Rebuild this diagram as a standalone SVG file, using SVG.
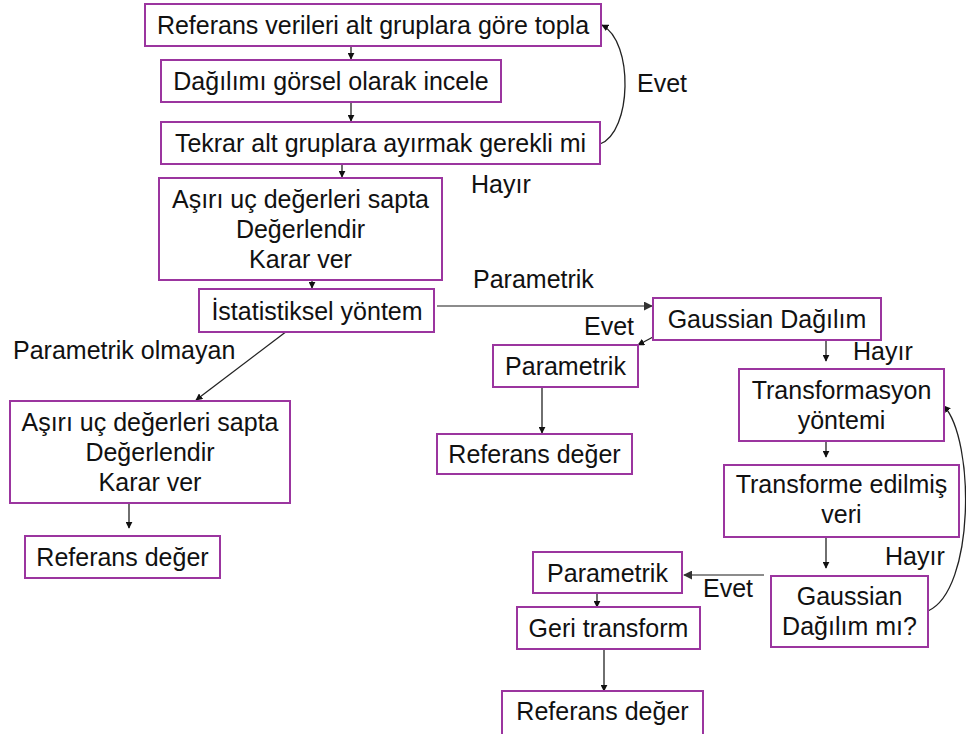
<svg xmlns="http://www.w3.org/2000/svg" width="966" height="734" viewBox="0 0 966 734">
<style>
.b{fill:#fff;stroke:#9b359f;stroke-width:2}
text{font-family:"Liberation Sans",Arial,sans-serif;font-size:25px;fill:#111}
.c{text-anchor:middle}
.l{fill:none;stroke:#222;stroke-width:1.3}
.g{fill:none;stroke:#8c8c8c;stroke-width:2.2}
</style>
<defs>
<marker id="a" viewBox="0 0 10 10" refX="9" refY="5" markerWidth="7" markerHeight="7" markerUnits="userSpaceOnUse" orient="auto"><path d="M0,0 L10,5 L0,10 z" fill="#111"/></marker>
<marker id="ag" viewBox="0 0 10 10" refX="9" refY="5" markerWidth="9" markerHeight="9" markerUnits="userSpaceOnUse" orient="auto"><path d="M0,0 L10,5 L0,10 z" fill="#333"/></marker>
</defs>
<rect width="966" height="734" fill="#fff"/>
<g id="connectors">
<line class="l" x1="351" y1="46" x2="351" y2="59" marker-end="url(#a)"/>
<line class="l" x1="351" y1="102" x2="351" y2="121" marker-end="url(#a)"/>
<line class="l" x1="342" y1="164" x2="342" y2="177" marker-end="url(#a)"/>
<line class="l" x1="312" y1="280" x2="312" y2="288" marker-end="url(#a)"/>
<path class="l" d="M600,144 C632,132 634,42 602,25" marker-end="url(#a)"/>
<line class="l" x1="287" y1="331" x2="196" y2="400" marker-end="url(#a)"/>
<line class="l" x1="129" y1="504" x2="129" y2="528" marker-end="url(#a)"/>
<line class="g" x1="437" y1="306" x2="652" y2="306" marker-end="url(#ag)"/>
<line class="l" x1="653" y1="337" x2="638" y2="345" marker-end="url(#a)"/>
<line class="l" x1="542" y1="387" x2="542" y2="433" marker-end="url(#a)"/>
<line class="l" x1="826" y1="341" x2="826" y2="361" marker-end="url(#a)"/>
<line class="l" x1="826" y1="441" x2="826" y2="457" marker-end="url(#a)"/>
<line class="l" x1="826" y1="537" x2="826" y2="568" marker-end="url(#a)"/>
<path class="l" d="M928,611 C975,590 975,440 944,406" marker-end="url(#a)"/>
<line class="g" x1="764" y1="575" x2="684" y2="575" stroke="#555" marker-end="url(#ag)"/>
<line class="l" x1="597" y1="593" x2="597" y2="607" marker-end="url(#a)"/>
<line class="l" x1="604" y1="650" x2="604" y2="691" marker-end="url(#a)"/>
</g>
<g id="labels">
<text x="637" y="92">Evet</text>
<text x="471" y="193">Hayır</text>
<text x="473" y="288">Parametrik</text>
<text x="13" y="359">Parametrik olmayan</text>
<text x="584" y="335">Evet</text>
<text x="853" y="360">Hayır</text>
<text x="885" y="565">Hayır</text>
<text x="703" y="597">Evet</text>
</g>
<g id="n1"><rect class="b" x="145" y="4" width="456" height="42"/><text class="c" x="373" y="34">Referans verileri alt gruplara göre topla</text></g>
<g id="n2"><rect class="b" x="161" y="60" width="340" height="42"/><text class="c" x="331" y="90">Dağılımı görsel olarak incele</text></g>
<g id="n3"><rect class="b" x="161" y="122" width="439" height="42"/><text class="c" x="380.5" y="152">Tekrar alt gruplara ayırmak gerekli mi</text></g>
<g id="n4"><rect class="b" x="159" y="178" width="283" height="102"/><text class="c" x="300.5" y="208">Aşırı uç değerleri sapta</text><text class="c" x="300.5" y="238">Değerlendir</text><text class="c" x="300.5" y="268">Karar ver</text></g>
<g id="n5"><rect class="b" x="199" y="289" width="235" height="43"/><text class="c" x="317" y="320">İstatistiksel yöntem</text></g>
<g id="n6"><rect class="b" x="10" y="401" width="280" height="102"/><text class="c" x="150" y="431">Aşırı uç değerleri sapta</text><text class="c" x="150" y="461">Değerlendir</text><text class="c" x="150" y="491">Karar ver</text></g>
<g id="n7"><rect class="b" x="25" y="536" width="195" height="42"/><text class="c" x="122.5" y="566">Referans değer</text></g>
<g id="n8"><rect class="b" x="653" y="298" width="228" height="42"/><text class="c" x="767" y="328">Gaussian Dağılım</text></g>
<g id="n9"><rect class="b" x="493" y="345" width="145" height="42"/><text class="c" x="565.5" y="375">Parametrik</text></g>
<g id="n10"><rect class="b" x="437" y="434" width="195" height="40"/><text class="c" x="534.5" y="463">Referans değer</text></g>
<g id="n11"><rect class="b" x="739" y="369" width="205" height="72"/><text class="c" x="841.5" y="399">Transformasyon</text><text class="c" x="841.5" y="429">yöntemi</text></g>
<g id="n12"><rect class="b" x="724" y="465" width="235" height="72"/><text class="c" x="841.5" y="493">Transforme edilmiş</text><text class="c" x="841.5" y="523">veri</text></g>
<g id="n13"><rect class="b" x="771" y="576" width="157" height="71"/><text class="c" x="849.5" y="605">Gaussian</text><text class="c" x="849.5" y="635">Dağılım mı?</text></g>
<g id="n14"><rect class="b" x="533" y="552" width="149" height="41"/><text class="c" x="607.5" y="582">Parametrik</text></g>
<g id="n15"><rect class="b" x="517" y="607" width="183" height="42"/><text class="c" x="608.5" y="637">Geri transform</text></g>
<g id="n16"><rect class="b" x="502" y="691" width="201" height="50"/><text class="c" x="602.5" y="720">Referans değer</text></g>
</svg>
